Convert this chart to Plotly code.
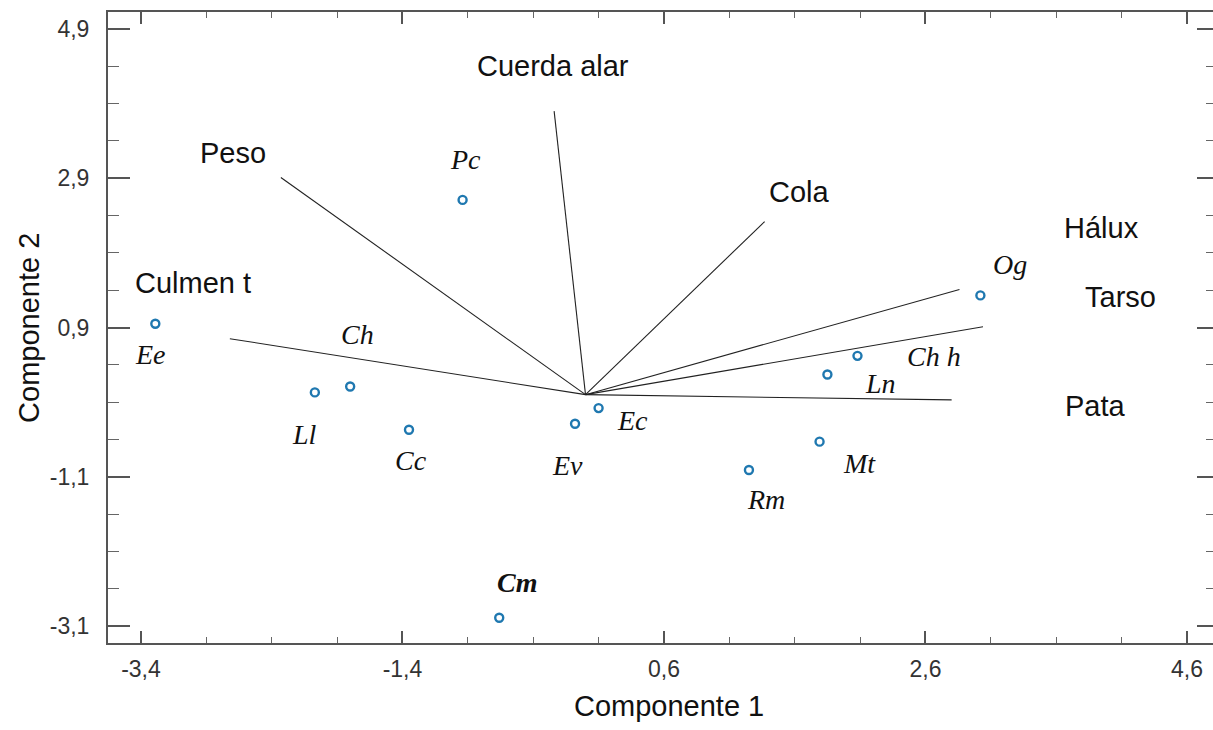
import plotly.graph_objects as go

# ---- data ----
species = ["Ee", "Pc", "Ch", "Ll", "Cc", "Ev", "Ec", "Cm", "Rm", "Mt", "Ln", "Ch h", "Og"]
comp1 = [-3.29, -0.94, -1.80, -2.07, -1.35, -0.08, 0.10, -0.66, 1.25, 1.79, 1.85, 2.08, 3.02]
comp2 = [0.95, 2.61, 0.11, 0.03, -0.47, -0.39, -0.18, -2.99, -1.01, -0.63, 0.27, 0.52, 1.33]

variables = ["Culmen t", "Peso", "Cuerda alar", "Cola", "Hálux", "Tarso", "Pata"]
load1 = [-2.72, -2.33, -0.24, 1.37, 2.86, 3.04, 2.80]
load2 = [0.75, 2.91, 3.80, 2.32, 1.41, 0.91, -0.07]

x_tickvals = [-3.4, -1.4, 0.6, 2.6, 4.6]
x_ticktext = ["-3,4", "-1,4", "0,6", "2,6", "4,6"]
y_tickvals = [-3.1, -1.1, 0.9, 2.9, 4.9]
y_ticktext = ["-3,1", "-1,1", "0,9", "2,9", "4,9"]

x_title = "Componente 1"
y_title = "Componente 2"

# ---- style (label offsets in px) ----
species_shift = {
    "Ee": (-5, -31), "Pc": (3, 40), "Ch": (7, 52), "Ll": (-10, -42), "Cc": (2, -31),
    "Ev": (-8, -42), "Ec": (34, -12), "Cm": (18, 35), "Rm": (17, -29), "Mt": (40, -22),
    "Ln": (53, -9), "Ch h": (77, -1), "Og": (30, 31),
}
var_shift = {
    "Culmen t": (-37, 56), "Peso": (-48, 25), "Cuerda alar": (-1, 45), "Cola": (35, 30),
    "Hálux": (142, 61), "Tarso": (137, 30), "Pata": (144, -6),
}

fig = go.Figure()

# loading vectors
lx, ly = [], []
for a, b in zip(load1, load2):
    lx += [0, a, None]
    ly += [0, b, None]
fig.add_trace(go.Scatter(x=lx, y=ly, mode="lines",
                         line=dict(color="#222222", width=1.1),
                         hoverinfo="skip", showlegend=False))

# species points
fig.add_trace(go.Scatter(x=comp1, y=comp2, mode="markers",
                         marker=dict(symbol="circle-open", size=8, color="#1f78b0",
                                     line=dict(color="#1f78b0", width=2.4)),
                         text=species, hoverinfo="text", showlegend=False))

# dummy trace for right axis
fig.add_trace(go.Scatter(x=[None], y=[None], yaxis="y2", showlegend=False, hoverinfo="skip"))

annotations = []
for name, x, y in zip(species, comp1, comp2):
    dx, dy = species_shift[name]
    annotations.append(dict(
        x=x, y=y, xref="x", yref="y", text=name, showarrow=False,
        xshift=dx, yshift=dy,
        font=dict(family="Liberation Serif, Times New Roman, serif", size=28,
                  color="#111111", style="italic",
                  weight="bold" if name == "Cm" else "normal")))
for name, x, y in zip(variables, load1, load2):
    dx, dy = var_shift[name]
    annotations.append(dict(
        x=x, y=y, xref="x", yref="y", text=name, showarrow=False,
        xshift=dx, yshift=dy,
        font=dict(family="Liberation Sans, Arial, sans-serif", size=29, color="#111111")))

annotations.append(dict(x=0.508, y=-0.1, xref="paper", yref="paper", text=x_title,
                        showarrow=False, yanchor="middle",
                        font=dict(family="Liberation Sans, Arial, sans-serif", size=29, color="#111111")))
annotations.append(dict(x=-0.072, y=0.5, xref="paper", yref="paper", text=y_title,
                        showarrow=False, textangle=-90, xanchor="center",
                        font=dict(family="Liberation Sans, Arial, sans-serif", size=29, color="#111111")))

tickfont = dict(family="Liberation Sans, Arial, sans-serif", size=23, color="#333333")

fig.update_layout(
    width=1213, height=730,
    margin=dict(l=108, r=0, t=12, b=87),
    paper_bgcolor="white", plot_bgcolor="white",
    showlegend=False,
    annotations=annotations,
    xaxis=dict(range=[-3.652, 4.799], showgrid=False, zeroline=False,
               showline=True, linecolor="#555555", linewidth=2, mirror="ticks",
               tickmode="array", tickvals=x_tickvals, ticktext=x_ticktext,
               ticks="inside", ticklen=12, tickwidth=1.5, tickcolor="#555555",
               ticklabelstandoff=4, tickfont=tickfont,
               minor=dict(tickmode="linear", tick0=-3.4, dtick=0.5, ticks="inside",
                          ticklen=6, tickwidth=1.2, tickcolor="#666666", showgrid=False)),
    yaxis=dict(range=[-3.328, 5.128], showgrid=False, zeroline=False,
               showline=True, linecolor="#555555", linewidth=2, mirror=False,
               tickmode="array", tickvals=y_tickvals, ticktext=y_ticktext,
               ticks="inside", ticklen=22, tickwidth=1.5, tickcolor="#555555",
               ticklabelstandoff=12, tickfont=tickfont,
               minor=dict(tickmode="linear", tick0=-3.1, dtick=0.5, ticks="inside",
                          ticklen=11, tickwidth=1.2, tickcolor="#666666", showgrid=False)),
    yaxis2=dict(range=[-3.328, 5.128], overlaying="y", side="right", matches="y",
                showgrid=False, zeroline=False, showline=False, showticklabels=False,
                tickmode="array", tickvals=y_tickvals,
                ticks="inside", ticklen=16, tickwidth=1.5, tickcolor="#555555",
                minor=dict(tickmode="linear", tick0=-3.1, dtick=0.5, ticks="inside",
                           ticklen=7, tickwidth=1.2, tickcolor="#666666", showgrid=False)),
)

fig.write_html("out.html")
